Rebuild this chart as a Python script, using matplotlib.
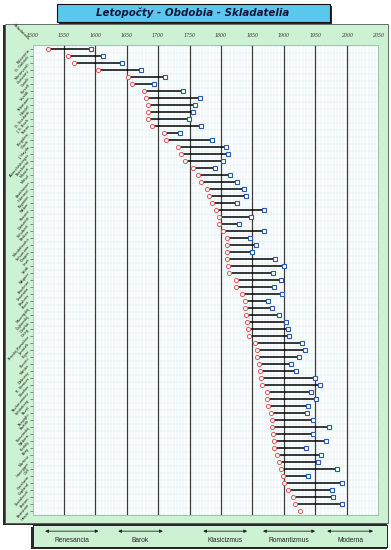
"""
Letopocty - Obdobia - Skladatelia: lifespans of composers on a timeline
"""
import numpy as np
import matplotlib.pyplot as plt
from matplotlib.patches import Rectangle, FancyBboxPatch

W, H = 391, 550

composers = [
    "Palestrina", "G. Gabrieli", "Monteverdi", "Carissimi", "Corelli", "Purcell",
    "Vivaldi", "Telemann", "Händel", "D. Scarlatti", "J. S. Bach", "Tartini",
    "Pergolesi", "Gluck", "J. Haydn", "Albrechtsberger", "Boccherini", "Mozart",
    "Méhul", "Beethoven", "Hummel", "Paganini", "Weber", "Rossini", "Donizetti",
    "Schubert", "Berlioz", "Mendelssohn", "Schumann", "Chopin", "Liszt", "Verdi",
    "Wagner", "Bruckner", "Smetana", "Brahms", "Bizet", "Musorgskij",
    "Čajkovskij", "Dvořák", "Grieg", "Rimskij-Korsakov", "Janáček", "Elgar",
    "Puccini", "Mahler", "Debussy", "R. Strauss", "Sibelius", "Rachmaninov",
    "Schönberg", "Ravel", "Respighi", "Bartók", "Stravinskij", "Webern",
    "Kodály", "Berg", "Martinů", "Honegger", "Orff", "Gershwin", "Copland",
    "Šostakovič", "Britten", "Bernstein", "Henze",
]
born = [
    1525, 1556, 1566, 1604, 1652, 1658, 1677, 1680, 1684, 1684, 1684, 1691,
    1709, 1713, 1731, 1737, 1742, 1755, 1764, 1769, 1777, 1781, 1785, 1792,
    1797, 1797, 1803, 1809, 1809, 1809, 1810, 1812, 1813, 1824, 1824, 1833,
    1838, 1839, 1840, 1841, 1843, 1844, 1854, 1857, 1858, 1860, 1862, 1864,
    1865, 1873, 1874, 1875, 1879, 1881, 1882, 1883, 1885, 1885, 1890, 1892,
    1896, 1898, 1900, 1907, 1914, 1918, 1926,
]
died = [
    1593, 1612, 1643, 1673, 1711, 1694, 1740, 1766, 1758, 1755, 1749, 1769,
    1735, 1786, 1808, 1812, 1804, 1791, 1814, 1826, 1836, 1840, 1826, 1868,
    1848, 1828, 1869, 1847, 1856, 1849, 1886, 1901, 1883, 1896, 1884, 1897,
    1875, 1881, 1893, 1904, 1907, 1908, 1929, 1934, 1924, 1912, 1919, 1950,
    1958, 1944, 1952, 1938, 1937, 1946, 1972, 1946, 1968, 1936, 1960, 1955,
    1984, 1938, 1993, 1977, 1978, 1992, None,
]
decades = list(range(1500, 2051, 50))

periods = ["Renesancia", "Barok", "Klasicizmus", "Romantizmus", "Moderna"]
period_from = [1520, 1636, 1771, 1866, 1968]
period_to = [1605, 1707, 1841, 1949, 2041]

green = "#cdf2d3"
shadow = "#2a2a2a"


def fx(x):
    return x / W


def fy(y):
    return 1 - y / H


fig = plt.figure(figsize=(W / 100, H / 100), dpi=100)
fig.patch.set_facecolor("white")

# green main panel with dark shadow
fig.patches.append(Rectangle((fx(3), fy(525)), fx(384), 500 / H,
                             transform=fig.transFigure, facecolor=shadow,
                             edgecolor="none", zorder=0))
fig.patches.append(FancyBboxPatch((fx(5), fy(523)), fx(383), 499 / H,
                                  boxstyle="square,pad=0",
                                  transform=fig.transFigure, facecolor=green,
                                  edgecolor="#555555", lw=0.6, zorder=0.5))

# title box
fig.patches.append(Rectangle((fx(59), fy(24)), fx(273), 18 / H,
                             transform=fig.transFigure, facecolor=shadow,
                             edgecolor="none", zorder=2))
fig.patches.append(Rectangle((fx(57), fy(22)), fx(273), 18 / H,
                             transform=fig.transFigure, facecolor="#58c8ec",
                             edgecolor="#111111", lw=0.8, zorder=3))
fig.text(fx(193), fy(13), "Letopočty - Obdobia - Skladatelia",
         ha="center", va="center", fontsize=7.4, fontweight="heavy",
         fontstyle="italic", color="#15153a", zorder=4)

# main chart
ax = fig.add_axes([fx(32.5), fy(515), (378 - 32.5) / W, 470 / H], zorder=5)
ax.set_facecolor("white")
rows = np.arange(1, len(composers) + 1)
births = np.array(born, dtype=float)
deaths = np.array([np.nan if d is None else d for d in died], dtype=float)

ax.set_xlim(1500, 2050)
ax.set_ylim(len(composers) + 0.35, 0.4)

ax.set_xticks(decades)
ax.set_xticklabels([str(d) for d in decades], fontsize=3.4, family="DejaVu Serif",
                   style="italic", color="#333333")
ax.set_xticks(np.arange(1500, 2051, 5), minor=True)
ax.xaxis.tick_top()
ax.tick_params(axis="x", which="both", length=0, pad=5)
ax.set_yticks(rows)
ax.set_yticklabels([])
ax.set_yticks(np.arange(0.5, len(composers) + 1, 0.5), minor=True)
ax.tick_params(axis="y", which="major", length=2, width=0.5, color="#555555")
ax.tick_params(axis="y", which="minor", length=0)
ax.grid(which="minor", color="#d3eaef", lw=0.35)
ax.set_axisbelow(True)
for d in decades[1:-1]:
    ax.axvline(d, color="#3a3a3a", lw=0.9, zorder=1)
for s in ax.spines.values():
    s.set_color("#9ab8a8")
    s.set_linewidth(0.6)

ax.hlines(rows, births, deaths, color="black", lw=1.1, zorder=2)
ax.plot(births, rows, "o", ms=3, mfc="white", mec="#e25a5a", mew=0.7, zorder=3)
ax.plot(deaths, rows, "s", ms=2.8, mfc="white", mec="#2c5aa8", mew=0.8, zorder=3)

for r, name in zip(rows, composers):
    ax.annotate(name, xy=(0, r), xycoords=("axes fraction", "data"),
                xytext=(-2.5, 0), textcoords="offset points", rotation=50,
                rotation_mode="anchor", ha="right", va="center",
                fontsize=2.6, color="#111111", annotation_clip=False)
ax.annotate("Skladatelia", xy=(0, 1), xycoords="axes fraction",
            xytext=(-4, 3), textcoords="offset points", rotation=-45,
            rotation_mode="anchor", ha="right", va="bottom", fontsize=2.8,
            color="#111111", annotation_clip=False)

# period panel
fig.patches.append(Rectangle((fx(31), fy(549)), fx(356), 22 / H,
                             transform=fig.transFigure, facecolor=shadow,
                             edgecolor="none", zorder=0))
pax = fig.add_axes([fx(33), fy(547), (387 - 33) / W, 22 / H], zorder=5)
pax.set_facecolor(green)
pax.set_xlim(1500 + (33 - 32.5) / 0.6296, 1500 + (387 - 32.5) / 0.6296)
pax.set_ylim(0, 1)
pax.set_xticks([])
pax.set_yticks([])
for s in pax.spines.values():
    s.set_color("#222222")
    s.set_linewidth(0.7)
for name, a, b in zip(periods, period_from, period_to):
    pax.annotate("", xy=(a, 0.72), xytext=(b, 0.72),
                 arrowprops=dict(arrowstyle="<|-|>", color="#222222", lw=0.6,
                                 mutation_scale=4.5, shrinkA=0, shrinkB=0))
    pax.text((a + b) / 2, 0.3, name, ha="center", va="center", fontsize=4.8,
             family="Liberation Sans", color="#222222")

fig.savefig("out.png", dpi=100)
